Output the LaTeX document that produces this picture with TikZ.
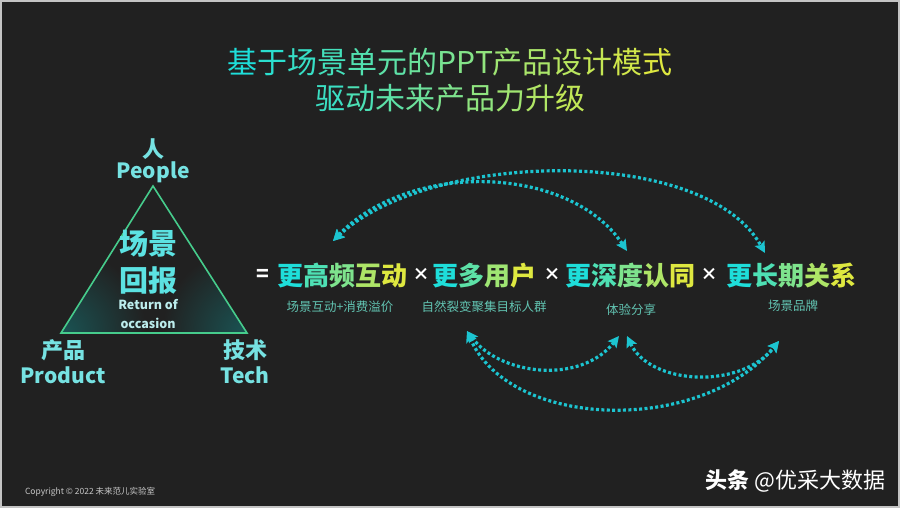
\documentclass[tikz,border=0pt]{standalone}
\usepackage{fontspec}
\setmainfont{Noto Sans CJK SC}
\usetikzlibrary{arrows.meta}
\definecolor{bg}{RGB}{33,33,33}
\definecolor{frame}{RGB}{196,196,196}
\definecolor{gC}{RGB}{30,222,218}
\definecolor{gY}{RGB}{222,232,64}
\definecolor{labc}{RGB}{118,226,226}
\definecolor{bigc}{RGB}{92,226,226}
\definecolor{retc}{RGB}{188,236,236}
\definecolor{subc}{RGB}{98,196,178}
\definecolor{arrc}{RGB}{28,196,208}
\definecolor{tric}{RGB}{70,204,140}
\definecolor{trif}{RGB}{26,84,84}
\definecolor{crc}{RGB}{200,200,200}
\ExplSyntaxOn
\int_new:N \l_gr_n_int
\int_new:N \l_gr_i_int
\tl_new:N \l_gr_p_tl
\NewDocumentCommand\grad{O{0}O{100}m}
  {
    \int_set:Nn \l_gr_n_int { \tl_count:n {#3} }
    \int_zero:N \l_gr_i_int
    \tl_map_inline:nn {#3}
      {
        \tl_set:Nx \l_gr_p_tl { \int_eval:n { #1 + (#2 - #1) * \l_gr_i_int / \int_max:nn {1} {\l_gr_n_int - 1} } }
        \int_incr:N \l_gr_i_int
        \textcolor{gY!\l_gr_p_tl!gC}{##1}
      }
  }
\ExplSyntaxOff
\tikzset{
  every node/.style={inner sep=0pt, outer sep=0pt},
  ttl/.style={font=\fontsize{30}{34}\selectfont},
  cornerlab/.style={labc, font=\bfseries\fontsize{21}{24}\selectfont},
  bigtxt/.style={bigc, font=\bfseries\fontsize{29}{32}\selectfont},
  rettxt/.style={retc, font=\bfseries\fontsize{12.5}{14}\selectfont},
  term/.style={font=\bfseries\fontsize{26}{30}\selectfont},
  optxt/.style={white, font=\bfseries\fontsize{17}{20}\selectfont},
  subtxt/.style={subc, font=\fontsize{12.5}{14}\selectfont},
  dotarrow/.style={arrc, line width=3.2pt, dash pattern=on 3pt off 2.4pt,
    {Stealth[length=11pt,width=11pt,inset=2pt]}-{Stealth[length=11pt,width=11pt,inset=2pt]}}
}
\begin{document}
\begin{tikzpicture}[x=1pt,y=-1pt]
\path[use as bounding box] (0,0) rectangle (900,508);
\fill[frame] (0,0) rectangle (900,508);
\fill[bg] (2,2) rectangle (898,506);

% title
\node[ttl] (t1) at (450,62) {\grad{基于场景单元的PPT产品设计模式}};
\node[ttl] (t2) at (450,98) {\grad[15][85]{驱动未来产品力升级}};

% triangle
\coordinate (A) at (153,186);
\coordinate (B) at (61,333);
\coordinate (C) at (247,333);
\begin{scope}
  \clip (A) -- (B) -- (C) -- cycle;
  \shade[inner color=trif, outer color=bg] (B) circle (85);
  \shade[inner color=trif, outer color=bg] (C) circle (85);
\end{scope}
\draw[tric, line width=1.6pt, line join=miter] (A) -- (B) -- (C) -- cycle;

\node[cornerlab, font=\bfseries\fontsize{22}{24}\selectfont] (ren) at (153,149) {人};
\node[cornerlab] (people) at (153,172) {People};
\node[cornerlab, font=\bfseries\fontsize{22}{24}\selectfont] (chanpin) at (63,350) {产品};
\node[cornerlab] (product) at (63,375) {Product};
\node[cornerlab, font=\bfseries\fontsize{22}{24}\selectfont] (jishu) at (245,350) {技术};
\node[cornerlab] (tech) at (245,375) {Tech};

\node[bigtxt] (cj) at (148,244) {场景};
\node[bigtxt] (hb) at (148,281) {回报};
\node[rettxt] (ret) at (148,305) {Return of};
\node[rettxt] (occ) at (148,323) {occasion};

% formula
\node[optxt, font=\bfseries\fontsize{21}{24}\selectfont] (eq) at (263,275) {=};
\node[term] (f1) at (342,276) {\grad{更高频互动}};
\node[optxt] (x1) at (421,274) {×};
\node[term] (f2) at (484,276) {\grad{更多用户}};
\node[optxt] (x2) at (552,274) {×};
\node[term] (f3) at (630,276) {\grad{更深度认同}};
\node[optxt] (x3) at (709,274) {×};
\node[term] (f4) at (791,276) {\grad{更长期关系}};

\node[subtxt] (s1) at (340,307) {场景互动+消费溢价};
\node[subtxt] (s2) at (484,307) {自然裂变聚集目标人群};
\node[subtxt] (s3) at (631,310) {体验分享};
\node[subtxt] (s4) at (793,306) {场景品牌};

% arrows
\coordinate (u0) at (333,241);
\coordinate (u1) at (627,251);
\coordinate (u2) at (765,253);
\coordinate (d0) at (467,331);
\coordinate (d1) at (619,336);
\coordinate (d2) at (627,336);
\coordinate (d3) at (779,341);
\draw[dotarrow] (u0) .. controls (410,160) and (570,165) .. (u1);
\draw[dotarrow] (u0) .. controls (430,150) and (705,145) .. (u2);
\draw[dotarrow] (d0) .. controls (500,375) and (580,385) .. (d1);
\draw[dotarrow] (d0) .. controls (510,430) and (700,435) .. (d3);
\draw[dotarrow] (d2) .. controls (650,385) and (740,390) .. (d3);

% footer
\node[anchor=west, crc, font=\fontsize{8.5}{10}\selectfont] (cr) at (25,492) {Copyright © 2022 未来范儿实验室};
\node[anchor=east, white, font=\fontsize{22}{26}\selectfont] (wm) at (885,481) {\textbf{头条} @优采大数据};
\end{tikzpicture}
\end{document}
